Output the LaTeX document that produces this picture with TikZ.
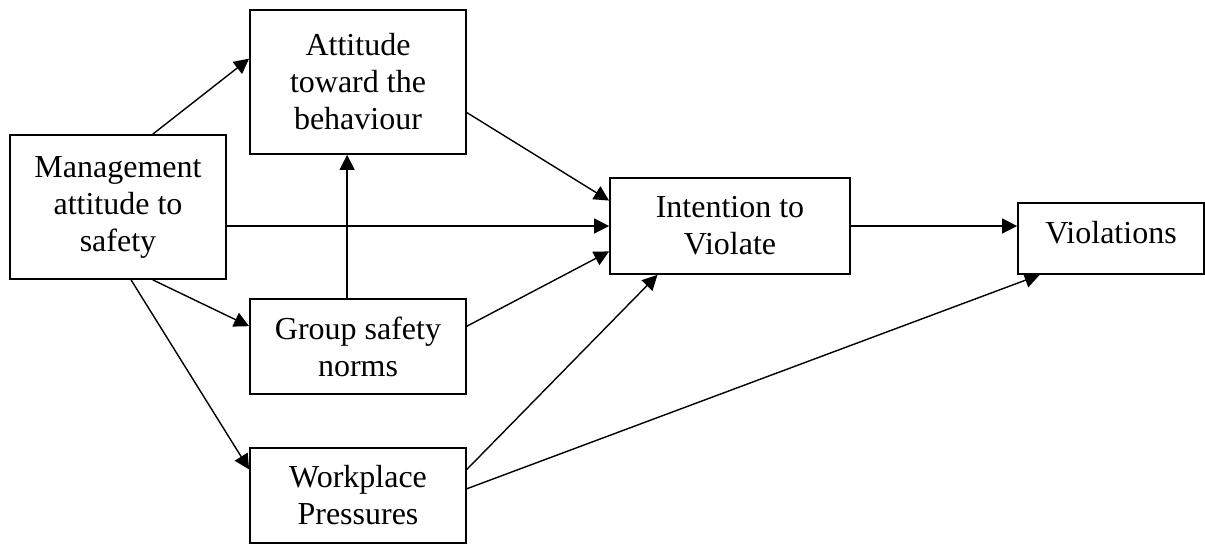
\documentclass[tikz,border=0pt]{standalone}
\usepackage{fontspec}
\setmainfont{Liberation Serif}
\usetikzlibrary{positioning, arrows.meta, calc}

\begin{document}
\begin{tikzpicture}[
    x=0.5pt, y=-0.5pt,
    box/.style={rectangle, draw, line width=0.9pt, align=center, inner sep=0pt,
        font=\fontsize{16}{18.5}\selectfont},
    arrow/.style={-{Triangle[length=7.5pt,width=7.5pt]}, line width=0.7pt}
]
    \useasboundingbox (0,0) rectangle (1205,543);
    \node[box, minimum width=108pt, minimum height=72pt] (mgmt) at (118,207) {Management\\attitude to\\safety};
    \node[box, minimum width=108pt, minimum height=72pt] (att) at (358,82) {Attitude\\toward the\\behaviour};
    \node[box, minimum width=108pt, minimum height=47.5pt] (norms) at (358,346.5) {Group safety\\norms};
    \node[box, minimum width=108pt, minimum height=47.5pt] (press) at (358,495.5) {Workplace\\Pressures};
    \node[box, minimum width=120pt, minimum height=48pt] (intent) at (730,226) {Intention to\\Violate};
    \node[box, minimum width=93pt, minimum height=35.5pt, text depth=6pt] (viol) at (1111,238.5) {Violations};
    % from management
    \draw[arrow] ($(mgmt.north west)!0.66!(mgmt.north east)$) -- ($(att.north west)!0.34!(att.south west)$);
    \draw[arrow] (intent.west -| mgmt.east) -- (intent.west);
    \draw[arrow] ($(mgmt.south west)!0.66!(mgmt.south east)$) -- ($(norms.north west)!0.29!(norms.south west)$);
    \draw[arrow] ($(mgmt.south west)!0.56!(mgmt.south east)$) -- ($(press.north west)!0.23!(press.south west)$);
    % norms to attitude
    \draw[arrow] ($(norms.north west)!0.45!(norms.north east)$) coordinate (g) -- (g |- att.south);
    % into intention
    \draw[arrow] ($(att.north east)!0.71!(att.south east)$) -- ($(intent.north west)!0.24!(intent.south west)$);
    \draw[arrow] ($(norms.north east)!0.29!(norms.south east)$) -- ($(intent.north west)!0.76!(intent.south west)$);
    \draw[arrow] ($(press.north east)!0.23!(press.south east)$) -- ($(intent.south west)!0.2!(intent.south east)$);
    % into violations
    \draw[arrow] ($(press.north east)!0.43!(press.south east)$) -- ($(viol.south west)!0.12!(viol.south east)$);
    \draw[arrow] (intent.east) -- (intent.east -| viol.west);
\end{tikzpicture}
\end{document}
